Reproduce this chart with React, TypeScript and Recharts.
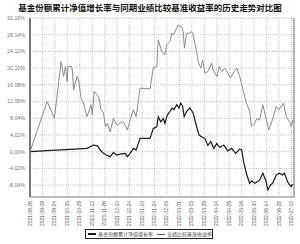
import { LineChart, Line, XAxis, YAxis, CartesianGrid, ReferenceLine } from 'recharts'

// 基金份额累计净值增长率 vs 业绩比较基准收益率 (in %)

const dateTicks = [
  '2021-08-26', '2021-09-09', '2021-09-24', '2021-10-15', '2021-10-29', '2021-11-12',
  '2021-11-26', '2021-12-10', '2021-12-24', '2022-01-10', '2022-01-24', '2022-02-15',
  '2022-03-01', '2022-03-15', '2022-03-29', '2022-04-14', '2022-04-29', '2022-05-16',
  '2022-05-30', '2022-06-14', '2022-06-28', '2022-07-12',
]
const tickIdx = dateTicks.map((_, i) => i * 10)

const yTicks = [-8.04, -4.02, 0, 4.02, 8.04, 12.06, 16.08, 20.1, 24.12, 28.14, 32.16]

// trading-day index / fund cumulative NAV growth
const fundX = [
  0, 45.8, 51, 54.2, 56.4, 59, 61.2, 64.4, 67, 69.8, 72.4, 76.4, 78.2, 80.4, 83, 85.2, 88.4, 96.4,
  99, 101.8, 103, 105, 107, 108.4, 110.2, 112.4, 114.2, 115.6, 117.8, 119.6, 121, 122.6, 123.8,
  125.8, 128.4, 131, 133.8, 135.8, 137.8, 140.4, 142.8, 145.2, 147.6, 150, 152.4, 155.6, 158.8,
  162, 165.2, 168.4, 170, 171.6, 174, 176.4, 178, 180.4, 182.8, 184.4, 187, 189.2, 191, 193.2,
  194.8, 197.8, 200.4, 202.8, 204.4, 206.8, 208.4, 209.8, 210.8,
]
const fundY = [
  0, 0.8, 1.6, 1.4, 0.4, -0.4, -0.8, -1.2, -0.2, -0.8, -0.6, -0.4, -1.2, -0.4, 0.8, 0.4, 3.2, 3.2,
  5.6, 6.0, 8.4, 7.2, 8.0, 6.8, 8.8, 9.7, 10.5, 10.1, 11.3, 10.5, 11.7, 10.9, 8.4,
  9.7, 10.5, 9.3, 6.0, 4.0, 3.6, 3.2, 1.5, 2.4, 0.8, 2.0, 1.0, 1.6, 0.2,
  0.8, -0.4, 0.6, 0.4, -2.5, -5.5, -7.6, -7.0, -7.6, -7.2, -6.8, -5.2, -6.8, -9.2, -8.0,
  -7.6, -5.6, -5.2, -5.6, -5.2, -7.2, -8.0, -8.4, -7.8,
]

// trading-day index / benchmark return
const benchX = [
  0, 13.8, 19.6, 25, 27, 28.6, 29.8, 30.6, 33.2, 34, 35, 37.8, 39, 41, 43, 45.8, 49, 50, 51.6,
  53.8, 55.4, 57, 59, 60.6, 62.2, 64.4, 67, 69.8, 72.4, 75, 78.2, 80.4, 83, 85.2, 88.4, 96.4,
  99, 101.8, 103, 105.8, 108.4, 109.8, 112.4, 113.8, 115, 117.8, 119, 120.4, 121.8, 123, 124,
  125.8, 128.4, 129.8, 131, 133.8, 135, 137.2, 138.6, 140.4, 143, 145.8, 147, 150.2, 151.8,
  153.8, 156.4, 159, 161, 163, 166.2, 168.4, 171, 173.8, 176.4, 177.8, 180.4, 182.2, 184.4,
  187, 189.2, 191.8, 195, 197.8, 199.8, 203.6, 205.8, 208.4, 209.8, 211,
]
const benchY = [
  0, 12.06, 8.04, 21.7, 18.1, 20.5, 16.9, 20.5, 20.5, 19.7, 14.9, 18.1, 17.3, 12.9, 11.7, 8.4, 11.3, 8.8, 14.5,
  13.7, 12.9, 10.1, 9.3, 6.0, 6.8, 4.8, 8.0, 6.4, 6.8, 7.2, 5.2, 7.6, 10.1, 8.4, 15.3, 15.1,
  20.1, 20.5, 26.9, 24.1, 23.3, 25.7, 26.5, 28.5, 28.1, 29.7, 30.5, 30.1, 30.1, 28.9, 24.9,
  28.5, 28.5, 28.9, 28.1, 24.1, 21.7, 20.1, 22.1, 18.9, 19.3, 21.3, 19.7, 18.1, 20.5,
  19.3, 20.1, 18.9, 17.7, 18.9, 20.1, 18.1, 14.9, 11.7, 9.7, 6.2, 6.8, 8.0, 7.6,
  11.3, 8.4, 5.2, 8.0, 10.9, 10.1, 11.7, 8.4, 7.2, 6.0, 7.6,
]

const fundData = fundX.map((x, i) => ({ x, v: fundY[i] }))
const benchData = benchX.map((x, i) => ({ x, v: benchY[i] }))

const numFont = '"Liberation Sans", Arial, sans-serif'
const cjkFont = '"Noto Sans CJK SC", sans-serif'

function DateTick({ x, payload }: any) {
  const label = dateTicks[Math.round(payload.value / 10)] ?? ''
  const ty = 201
  return (
    <text x={x} y={ty} transform={`rotate(-90 ${x} ${ty})`} textAnchor="end" dominantBaseline="central"
      fontSize={4.9} fill="#555" fontFamily={numFont}>
      {label}
    </text>
  )
}

export default function App() {
  return (
    <div style={{ position: 'absolute', left: 0, top: 0, width: 300, height: 244, background: '#fff' }}>
      <LineChart width={300} height={244} data={benchData} margin={{ top: 18, right: 6, bottom: 0, left: 0 }}>
        <CartesianGrid stroke="#b0b0b0" strokeDasharray="1 1" strokeWidth={0.7} />
        <XAxis type="number" dataKey="x" domain={[0, 212]} ticks={tickIdx} interval={0} allowDataOverflow
          height={47} tick={<DateTick />} tickLine={false} axisLine={{ stroke: '#888' }} />
        <YAxis type="number" domain={[-10.9, 32.16]} ticks={yTicks} interval={0} allowDataOverflow width={30}
          tickFormatter={(v: number) => `${v.toFixed(2)}%`} tickLine={false} tickSize={3}
          tick={{ fontSize: 5.3, fill: '#777', fontFamily: numFont }} axisLine={{ stroke: '#777', strokeWidth: 2 }} />
        <ReferenceLine x={212} stroke="#777" strokeWidth={1} ifOverflow="extendDomain" />
        <Line data={benchData} dataKey="v" stroke="#8a8a8a" strokeWidth={1} dot={false} isAnimationActive={false} />
        <Line data={fundData} dataKey="v" stroke="#1a1a1a" strokeWidth={1.2} dot={false} isAnimationActive={false} />
      </LineChart>
      <div style={{ position: 'absolute', left: 0, top: 1, width: 300, textAlign: 'center', fontFamily: cjkFont,
        fontWeight: 700, fontSize: 8.5, lineHeight: '12px', color: '#111', whiteSpace: 'nowrap' }}>
        基金份额累计净值增长率与同期业绩比较基准收益率的历史走势对比图
      </div>
      <div style={{ position: 'absolute', left: 85, top: 229, width: 124, height: 8, border: '1px solid #222',
        display: 'flex', alignItems: 'center', gap: 2, paddingLeft: 2, boxSizing: 'content-box',
        fontFamily: cjkFont, fontSize: 5, lineHeight: '8px', color: '#444', whiteSpace: 'nowrap' }}>
        <span style={{ display: 'inline-block', width: 8, height: 1.2, background: '#1a1a1a' }} />
        <span>基金份额累计净值增长率</span>
        <span style={{ display: 'inline-block', width: 8, height: 1, background: '#555', marginLeft: 2 }} />
        <span>业绩比较基准收益率</span>
      </div>
    </div>
  )
}
